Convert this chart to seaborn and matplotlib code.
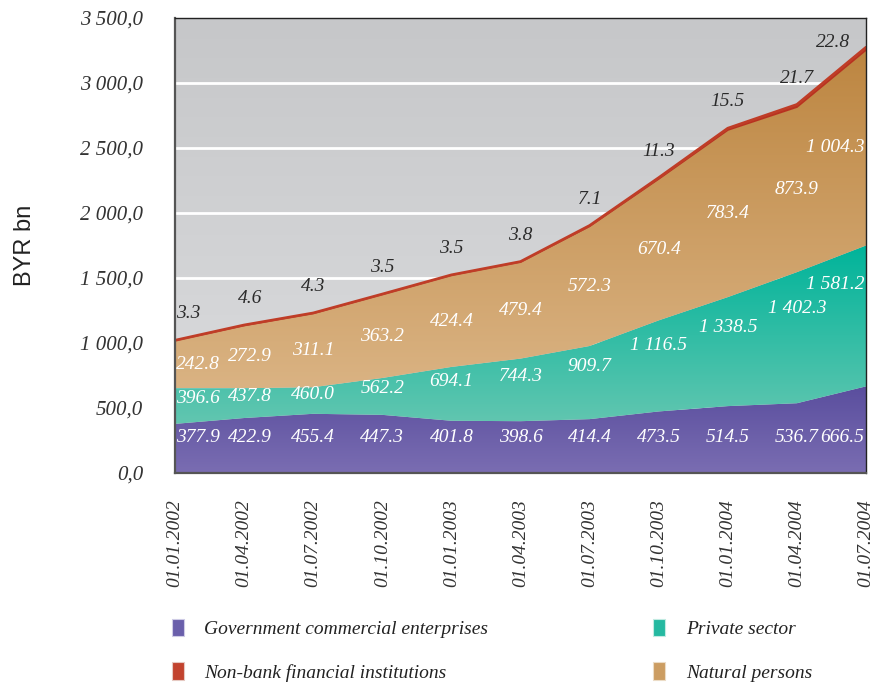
import numpy as np
import pandas as pd
import seaborn as sns
import matplotlib.pyplot as plt
from matplotlib.colors import LinearSegmentedColormap
from matplotlib.patches import Patch

# Datoer (x-aksen) og verdier lest fra figuren
dates = ["01.01.2002", "01.04.2002", "01.07.2002", "01.10.2002",
         "01.01.2003", "01.04.2003", "01.07.2003", "01.10.2003",
         "01.01.2004", "01.04.2004", "01.07.2004"]

government = [377.9, 422.9, 455.4, 447.3, 401.8, 398.6, 414.4, 473.5, 514.5, 536.7, 666.5]
private = [396.6, 437.8, 460.0, 562.2, 694.1, 744.3, 909.7, 1116.5, 1338.5, 1402.3, 1581.2]
natural = [242.8, 272.9, 311.1, 363.2, 424.4, 479.4, 572.3, 670.4, 783.4, 873.9, 1004.3]
nonbank = [3.3, 4.6, 4.3, 3.5, 3.5, 3.8, 7.1, 11.3, 15.5, 21.7, 22.8]

# øvre kant av det grønne feltet slik den er tegnet i originalen
private_edge = [652, 652, 660, 731, 816, 880, 977, 1174, 1353, 1545, 1750]

legend_labels = ["Government commercial enterprises", "Non-bank financial institutions",
                 "Private sector", "Natural persons"]

df = pd.DataFrame({"dato": dates, "gov": government, "priv": private,
                   "nat": natural, "nb": nonbank, "edge": private_edge})
df["x"] = np.arange(len(df))
df["total"] = df["gov"] + df["priv"] + df["nat"] + df["nb"]
df["nat_top"] = df["total"] - df["nb"]

sns.set_theme(style="white")
plt.rcParams["font.family"] = ["Liberation Serif", "DejaVu Serif"]
plt.rcParams["font.style"] = "italic"

farger = {
    "gov": ("#5a4e9e", "#7a6db2"),
    "priv": ("#00b49a", "#62c6b0"),
    "nat": ("#bd8641", "#dab383"),
}


def gradient_fill(ax, x, y1, y2, c_top, c_bot, zorder):
    """Fyller arealet mellom y1 og y2 med en vertikal gradient."""
    poly = ax.fill_between(x, y1, y2, facecolor="none", edgecolor="none", zorder=zorder)
    ymin, ymax = float(np.min(y1)), float(np.max(y2))
    cmap = LinearSegmentedColormap.from_list("g", [c_bot, c_top])
    grad = np.linspace(0, 1, 256).reshape(-1, 1)
    im = ax.imshow(grad, cmap=cmap, aspect="auto", origin="lower",
                   extent=[x[0], x[-1], ymin, ymax], zorder=zorder, interpolation="bicubic")
    im.set_clip_path(poly.get_paths()[0], transform=ax.transData)
    return im


fig = plt.figure(figsize=(8.77, 6.88), dpi=100)
ax = fig.add_axes([175 / 877, 1 - 473 / 688, (866 - 175) / 877, (473 - 18) / 688])

x = df["x"].values

# bakgrunn med gradient og hvite rutenettlinjer
bg = LinearSegmentedColormap.from_list("bg", ["#dddee0", "#c6c7c9"])
ax.imshow(np.linspace(0, 1, 256).reshape(-1, 1), cmap=bg, aspect="auto", origin="lower",
          extent=[0, 10, 0, 3500], zorder=0)
for yv in range(500, 3500, 500):
    ax.axhline(yv, color="white", linewidth=2, zorder=1)

gradient_fill(ax, x, np.zeros(len(x)), df["gov"].values, *farger["gov"], zorder=2)
gradient_fill(ax, x, df["gov"].values, df["edge"].values, *farger["priv"], zorder=2)
gradient_fill(ax, x, df["edge"].values, df["nat_top"].values, *farger["nat"], zorder=2)
ax.fill_between(x, df["nat_top"], df["total"], color="#b8321f", linewidth=0, zorder=3)
sns.lineplot(data=df, x="x", y="total", color="#bf3d27", linewidth=2.0, ax=ax, zorder=3)

ax.set_xlim(0, 10)
ax.set_ylim(0, 3500)


def fmt_lbl(v):
    return f"{v:,.1f}".replace(",", " ")


n = len(df)
for i, row in df.iterrows():
    if i == 0:
        ha, dx = "left", 1
    elif i == n - 1:
        ha, dx = "right", -2
    elif i == 1:
        ha, dx = "center", 6
    else:
        ha, dx = "center", 0
    kw = dict(ha=ha, va="center", fontsize=14, textcoords="offset pixels", zorder=5)
    ax.annotate(fmt_lbl(row["gov"]), (row["x"], 275), xytext=(dx, 0), color="white", **kw)
    py = row["gov"] + 0.72 * (row["edge"] - row["gov"])
    ax.annotate(fmt_lbl(row["priv"]), (row["x"], py), xytext=(dx, 0), color="white", **kw)
    ny = (row["edge"] + row["nat_top"]) / 2
    ax.annotate(fmt_lbl(row["nat"]), (row["x"], ny), xytext=(dx, 0), color="white", **kw)
    if i == n - 1:
        ax.annotate(fmt_lbl(row["nb"]), (row["x"], row["total"]), xytext=(-16, -4),
                    color="#2a2a2a", **{**kw, "va": "bottom"})
    else:
        ax.annotate(fmt_lbl(row["nb"]), (row["x"], row["total"]), xytext=(dx, 18),
                    color="#2a2a2a", **{**kw, "va": "bottom"})

# akser
ax.set_xticks(x)
ax.set_xticklabels(dates, rotation=90, fontsize=14, color="#333333")
yt = np.arange(0, 3501, 500)
ax.set_yticks(yt)
ax.set_yticklabels([f"{v:,.1f}".replace(",", " ").replace(".", ",") for v in yt],
                   fontsize=15, color="#333333")
ax.tick_params(axis="both", direction="out", length=7, width=1.3, colors="#555555",
               labelcolor="#333333")
ax.tick_params(axis="y", pad=16)
ax.tick_params(axis="x", pad=12)
ax.set_xlabel("")
ax.set_ylabel("BYR bn", family=["Liberation Sans", "DejaVu Sans"], style="normal",
              fontsize=17, color="#222222", labelpad=32)
for side in ["left", "bottom"]:
    ax.spines[side].set_color("#555555")
    ax.spines[side].set_linewidth(1.6)
for side in ["top", "right"]:
    ax.spines[side].set_color("#222222")
    ax.spines[side].set_linewidth(1.0)
for sp in ax.spines.values():
    sp.set_zorder(6)

handles = [Patch(facecolor="#6a5fab", edgecolor="#cfcce6", linewidth=0.8),
           Patch(facecolor="#c2432e", edgecolor="#e6c9c2", linewidth=0.8),
           Patch(facecolor="#25b9a1", edgecolor="#c2ebe2", linewidth=0.8),
           Patch(facecolor="#cc9d62", edgecolor="#ecdcc6", linewidth=0.8)]
fig.legend(handles, legend_labels, loc="upper left", bbox_to_anchor=(154 / 877, 1 - 601 / 688),
           ncol=2, frameon=False, fontsize=14, handlelength=0.62, handleheight=1.0,
           handletextpad=1.05, labelspacing=1.25, columnspacing=8.5, labelcolor="#222222")

fig.savefig("out.png", dpi=100)
